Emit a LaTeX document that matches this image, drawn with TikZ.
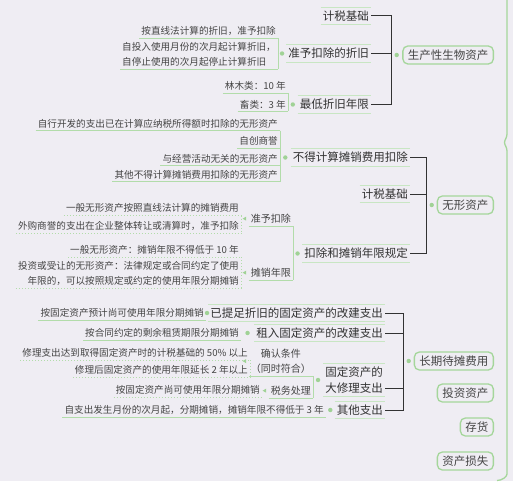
\documentclass[tikz,border=0pt]{standalone}
\usepackage{fontspec}
\setmainfont{Noto Sans CJK SC}
\usetikzlibrary{calc}
\definecolor{bgcol}{RGB}{239,237,243}
\definecolor{topicgreen}{RGB}{165,214,155}
\definecolor{linegreen}{RGB}{178,220,170}
\definecolor{palegreen}{RGB}{200,230,195}
\definecolor{knobgreen}{RGB}{160,210,150}
\definecolor{darkline}{RGB}{50,50,50}
\definecolor{txtgray}{RGB}{68,68,68}

% knob between a bracket and its parent
\newcommand\knob[2]{\fill[knobgreen] ($(#1 -| #2)!.5!(#1)$) circle (2.2pt);}
% small arrow tip in front of a node
\newcommand\tip[1]{\fill[knobgreen] ([xshift=-2.5pt,yshift=2pt]#1) -- ([xshift=-2.5pt,yshift=-2pt]#1) -- ([xshift=-6pt]#1) -- cycle;}

\begin{document}
\begin{tikzpicture}[x=1pt, y=-1pt,
  topic/.style={draw=topicgreen, line width=1.3pt, rounded corners=5pt, anchor=east,
    font=\fontsize{11.5}{14}\selectfont, text=txtgray, inner xsep=5pt, inner ysep=2pt, minimum height=18pt},
  sub/.style={anchor=east, font=\fontsize{11.5}{16}\selectfont, text=darkline, inner xsep=2pt,
    inner ysep=3pt, text height=9.8pt, text depth=1.2pt},
  leaf/.style={anchor=south east, font=\fontsize{9.6}{15.5}\selectfont, text=txtgray, inner xsep=2pt, inner ysep=2.5pt},
  small/.style={leaf, font=\fontsize{10}{15}\selectfont},
  subline/.style={palegreen, line width=0.9pt},
  leafline/.style={linegreen, line width=1pt},
  dotline/.style={linegreen, line width=1pt, dotted},
  conn/.style={darkline, line width=1pt}
]

% Background
\fill[bgcol] (0,0) rectangle (513,481);
\useasboundingbox (0,0) rectangle (513,481);

% Brace of the main topics
\draw[topicgreen, line width=1.3pt, rounded corners=3pt]
  (507,-3) -- (507,137) -- (503.5,142.5) -- (507,148) -- (507,471) to[out=-90,in=0] (497,480.5);

% Main topics
\node[topic] (t1) at (494,55) {生产性生物资产};
\node[topic] (t2) at (494,205) {无形资产};
\node[topic] (t3) at (494,361) {长期待摊费用};
\node[topic] (t4) at (494,393) {投资资产};
\node[topic] (t5) at (494,427) {存货};
\node[topic] (t6) at (494,461) {资产损失};

% Subtopics
\node[sub] (s11) at (371,16) {计税基础};
\node[sub] (s12) at (371,53.5) {准予扣除的折旧};
\node[sub] (s13) at (371,104.5) {最低折旧年限};
\node[sub] (s21) at (410,157.5) {不得计算摊销费用扣除};
\node[sub] (s22) at (410,194) {计税基础};
\node[sub] (s23) at (410,253.5) {扣除和摊销年限规定};
\node[sub] (s31) at (385,313) {已提足折旧的固定资产的改建支出};
\node[sub] (s32) at (385,333) {租入固定资产的改建支出};
\node[sub, text height=, text depth=, align=left] (s33) at (385,380) {固定资产的\\大修理支出};
\node[sub] (s34) at (385,410) {其他支出};

\foreach \n in {s11,s12,s13,s21,s22,s23,s31,s32,s33,s34}{
  \draw[subline] (\n.north west) -- (\n.north east);
  \draw[subline] (\n.south west) -- (\n.south east);
}

% Junctions to the main topics
\coordinate (j1) at ([xshift=-11pt]t1.west);
\coordinate (j2) at ([xshift=-10pt]t2.west);
\coordinate (j3) at ([xshift=-10pt]t3.west);
\draw[conn] (s11.east) -- (s11.east -| j1) -- (s13.east -| j1) -- (s13.east);
\draw[conn] (s12.east) -- (s12.east -| j1);
\draw[conn] (s21.east) -- (s21.east -| j2) -- (s23.east -| j2) -- (s23.east);
\draw[conn] (s22.east) -- (s22.east -| j2);
\draw[conn] (s31.east) -- (s31.east -| j3) -- (s34.east -| j3) -- (s34.east);
\draw[conn] (s32.east) -- (s32.east -| j3);
\draw[conn] ([yshift=-8pt]s33.east) -- ([yshift=-8pt]s33.east -| j3);
\knob{t1.west}{j1}
\knob{t2.west}{j2}
\knob{t3.west}{j3}

% Leaves of 生产性生物资产
\node[leaf] (l121) at (278,38.3) {按直线法计算的折旧，准予扣除};
\node[leaf, align=left] (l122) at (278,69.5) {自投入使用月份的次月起计算折旧，\\自停止使用的次月起停止计算折旧};
\node[leaf] (l131) at (288,93.3) {林木类：10 年};
\node[leaf] (l132) at (288,111.5) {畜类：3 年};

% Leaves of 无形资产
\node[leaf] (l211) at (280,130.7) {自行开发的支出已在计算应纳税所得额时扣除的无形资产};
\node[leaf] (l212) at (280,148.3) {自创商誉};
\node[leaf] (l213) at (280,165.7) {与经营活动无关的无形资产};
\node[leaf] (l214) at (280,181.7) {其他不得计算摊销费用扣除的无形资产};
\node[small] (m231) at (293,226) {准予扣除};
\node[small] (m232) at (293,280) {摊销年限};
\node[leaf] (d1) at (241,215.5) {一般无形资产按照直线法计算的摊销费用};
\node[leaf] (d2) at (241,233) {外购商誉的支出在企业整体转让或清算时，准予扣除};
\node[leaf] (d3) at (241,257) {一般无形资产：摊销年限不得低于 10 年};
\node[leaf, align=right] (d4) at (241,288.5) {投资或受让的无形资产：法律规定或合同约定了使用\\年限的，可以按照规定或约定的使用年限分期摊销};

% Leaves of 长期待摊费用
\node[leaf] (f1) at (206,320.5) {按固定资产预计尚可使用年限分期摊销};
\node[leaf] (f2) at (241,340) {按合同约定的剩余租赁期限分期摊销};
\node[small, align=center] (c1) at (313,376) {确认条件\\（同时符合）};
\node[small] (c2) at (313,398) {税务处理};
\node[leaf] (e1) at (250,360) {修理支出达到取得固定资产时的计税基础的 50\% 以上};
\node[leaf] (e2) at (250,377) {修理后固定资产的使用年限延长 2 年以上};
\node[leaf] (e3) at (262,397) {按固定资产尚可使用年限分期摊销};
\node[leaf] (f3) at (326,417) {自支出发生月份的次月起，分期摊销，摊销年限不得低于 3 年};

% Underlines and brackets
\foreach \n in {l121,l122,l131,l132,l211,l212,l213,l214,m231,m232,f1,f2,c1,c2,f3}
  \draw[leafline] (\n.south west) -- (\n.south east);
\draw[leafline] (l121.south east) -- (l122.south east);
\draw[leafline] (l131.south east) -- (l132.south east);
\draw[leafline] (l211.south east) -- (l214.south east);
\draw[leafline] (m231.south east) -- (m232.south east);
\draw[leafline] (c1.south east) -- (c2.south east);

\foreach \n in {d1,d2,d3,d4,e1,e2,e3}
  \draw[dotline] (\n.south west) -- (\n.south east);
\draw[dotline] (d1.south east) -- (d2.south east);
\draw[dotline] (d3.south east) -- (d4.south east);
\draw[dotline] (e1.south east) -- (e2.south east);

% Knobs
\knob{s12.west}{l121.south east}
\knob{s13.west}{l131.south east}
\knob{s21.west}{l211.south east}
\knob{s23.west}{m231.south east}
\knob{s31.west}{f1.south east}
\knob{s32.west}{f2.south east}
\knob{s33.west}{c1.south east}
\knob{s34.west}{f3.south east}

% Tips
\tip{m231.west}
\tip{m232.west}
\tip{c1.west}
\tip{c2.west}

\end{tikzpicture}
\end{document}
